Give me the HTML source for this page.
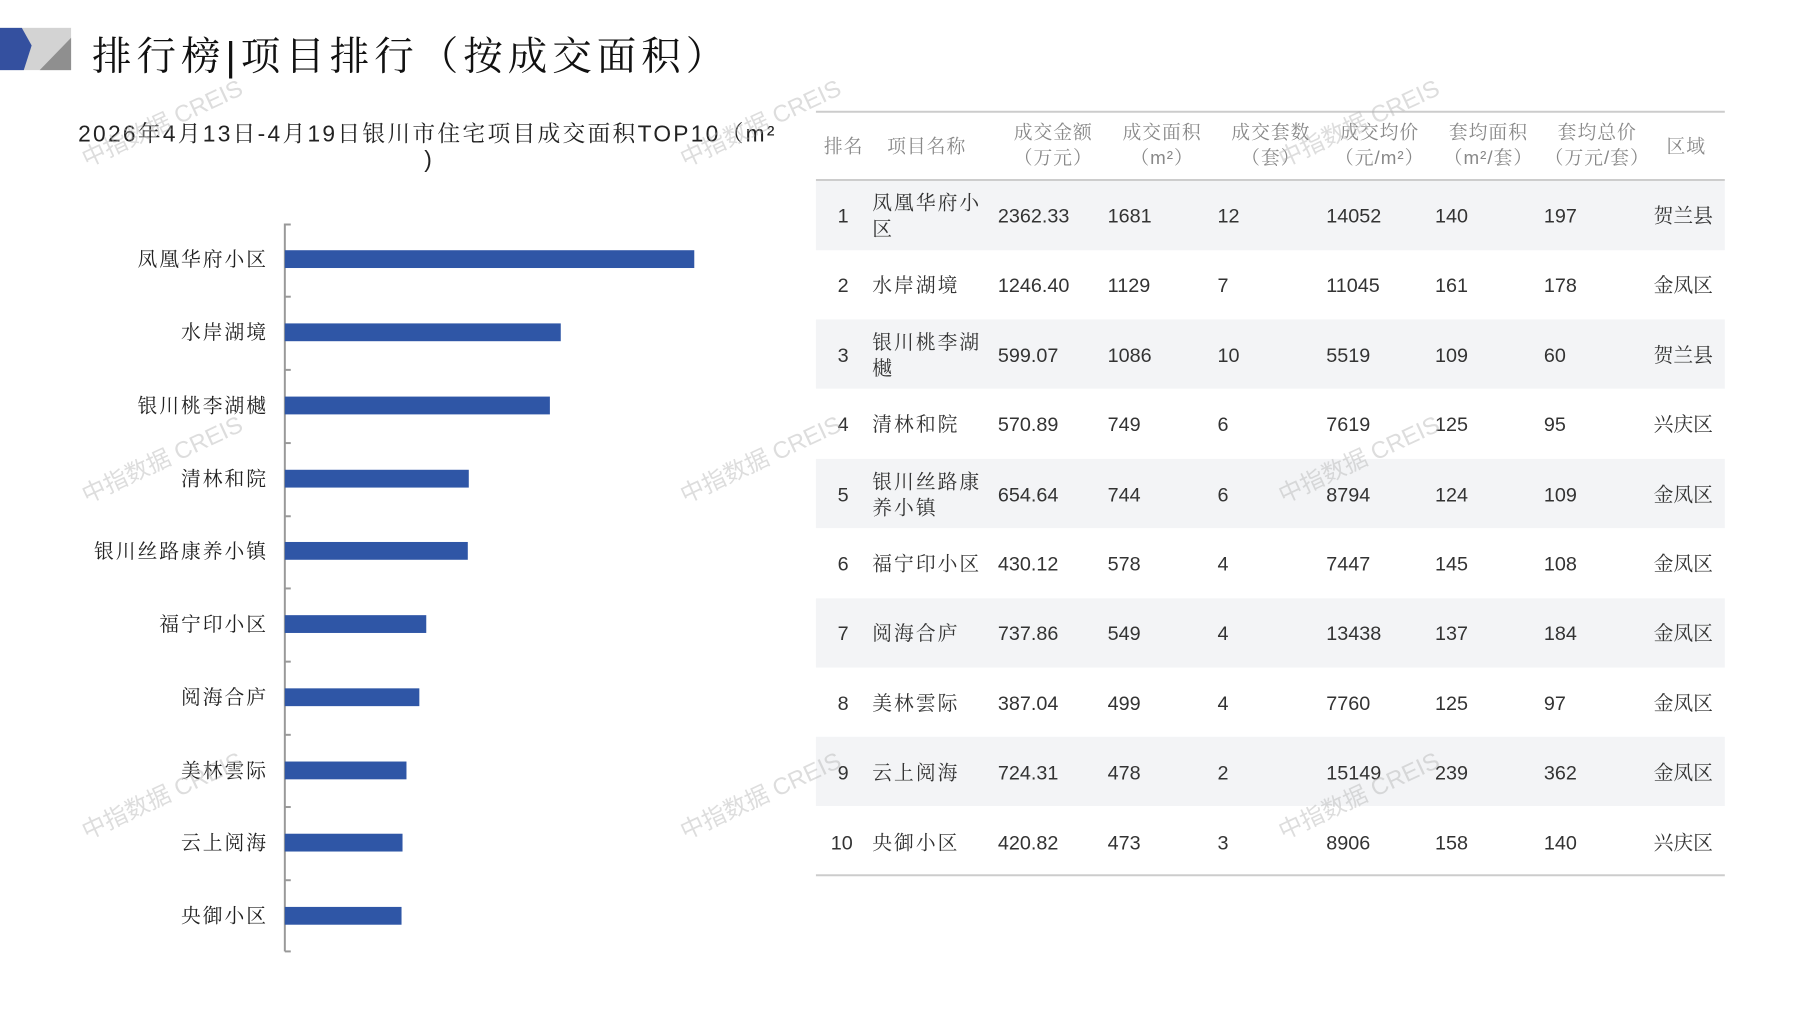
<!DOCTYPE html>
<html><head><meta charset="utf-8"><style>
body{margin:0;width:1797px;height:1010px;background:#fff;position:relative;overflow:hidden;font-family:"Liberation Sans","Noto Serif CJK SC",serif;}
#w{position:absolute;left:0;top:0;width:1817px;height:1021px;transform:scale(0.989);transform-origin:0 0;}
.a{position:absolute;white-space:nowrap;}
.lab{position:absolute;right:1546px;font-size:20px;color:#222;letter-spacing:2px;line-height:20px;}
.bar{position:absolute;left:288px;height:18px;background:#2f56a6;}
.tk{position:absolute;left:288px;width:6px;height:1.5px;background:#999;}
.row{position:absolute;left:825px;width:919px;height:70px;}
.c{position:absolute;font-size:20px;color:#333;line-height:26px;}
.h{position:absolute;font-size:19px;color:#888;text-align:center;line-height:26px;letter-spacing:1px;}
.wm{position:absolute;font-family:"Liberation Sans","Noto Sans CJK SC",sans-serif;font-size:24px;color:rgba(180,180,180,0.45);transform:rotate(-25deg);white-space:nowrap;}
</style></head><body><div id="w">
<svg class="a" style="left:0;top:28px" width="72" height="43">
<rect x="0" y="0" width="72" height="43" fill="#d3d3d3"/>
<polygon points="40,43 72,10 72,43" fill="#8f8f8f"/>
<polygon points="0,0 22,0 32,18 24,43 0,43" fill="#34509f"/>
</svg>
<div class="a" style="left:93px;top:26px;font-size:40px;color:#111;letter-spacing:5px;">排行榜|项目排行（按成交面积）</div>
<div class="a" style="left:79px;top:117px;font-size:23px;color:#222;letter-spacing:2.3px;">2026年4月13日-4月19日银川市住宅项目成交面积TOP10（m²</div>
<div class="a" style="left:429px;top:148px;font-size:23px;color:#222;">)</div>

<div class="a" style="left:287px;top:226px;width:1.5px;height:736px;background:#999;"></div>
<div class="tk" style="top:226px"></div><div class="tk" style="top:299px"></div><div class="tk" style="top:373px"></div><div class="tk" style="top:447px"></div><div class="tk" style="top:521px"></div><div class="tk" style="top:594px"></div><div class="tk" style="top:668px"></div><div class="tk" style="top:742px"></div><div class="tk" style="top:815px"></div><div class="tk" style="top:889px"></div><div class="tk" style="top:961px"></div>

<div class="bar" style="top:253px;width:414px"></div><div class="lab" style="top:253px">凤凰华府小区</div>
<div class="bar" style="top:327px;width:279px"></div><div class="lab" style="top:327px">水岸湖境</div>
<div class="bar" style="top:401px;width:268px"></div><div class="lab" style="top:401px">银川桃李湖樾</div>
<div class="bar" style="top:475px;width:186px"></div><div class="lab" style="top:475px">清林和院</div>
<div class="bar" style="top:548px;width:185px"></div><div class="lab" style="top:548px">银川丝路康养小镇</div>
<div class="bar" style="top:622px;width:143px"></div><div class="lab" style="top:622px">福宁印小区</div>
<div class="bar" style="top:696px;width:136px"></div><div class="lab" style="top:696px">阅海合庐</div>
<div class="bar" style="top:770px;width:123px"></div><div class="lab" style="top:770px">美林雲际</div>
<div class="bar" style="top:843px;width:119px"></div><div class="lab" style="top:843px">云上阅海</div>
<div class="bar" style="top:917px;width:118px"></div><div class="lab" style="top:917px">央御小区</div>

<div class="a" style="left:825px;top:112px;width:919px;height:2px;background:#ccc"></div>
<div class="a" style="left:825px;top:181px;width:919px;height:2px;background:#ccc"></div>
<div class="h" style="left:828px;top:136px;width:50px">排名</div>
<div class="h" style="left:882px;top:136px;width:110px">项目名称</div>
<div class="h" style="left:1010px;top:122px;width:110px">成交金额<br>（万元）</div>
<div class="h" style="left:1120px;top:122px;width:110px">成交面积<br>（m²）</div>
<div class="h" style="left:1230px;top:122px;width:110px">成交套数<br>（套）</div>
<div class="h" style="left:1340px;top:122px;width:110px">成交均价<br>（元/m²）</div>
<div class="h" style="left:1450px;top:122px;width:110px">套均面积<br>（m²/套）</div>
<div class="h" style="left:1560px;top:122px;width:110px">套均总价<br>（万元/套）</div>
<div class="h" style="left:1670px;top:136px;width:70px">区域</div>

<div class="row" style="top:183px;background:#f3f4f6"></div>
<div class="row" style="top:323px;background:#f3f4f6"></div>
<div class="row" style="top:464px;background:#f3f4f6"></div>
<div class="row" style="top:605px;background:#f3f4f6"></div>
<div class="row" style="top:745px;background:#f3f4f6"></div>
<div class="a" style="left:825px;top:884px;width:919px;height:1.5px;background:#ccc"></div>

<div class="c" style="left:847px;top:206px">1</div><div class="c" style="left:882px;top:193px;width:112px;white-space:normal;letter-spacing:2px">凤凰华府小区</div><div class="c" style="left:1009px;top:206px">2362.33</div><div class="c" style="left:1120px;top:206px">1681</div><div class="c" style="left:1231px;top:206px">12</div><div class="c" style="left:1341px;top:206px">14052</div><div class="c" style="left:1451px;top:206px">140</div><div class="c" style="left:1561px;top:206px">197</div><div class="c" style="left:1672px;top:206px">贺兰县</div>
<div class="c" style="left:847px;top:276px">2</div><div class="c" style="left:882px;top:276px;letter-spacing:2px">水岸湖境</div><div class="c" style="left:1009px;top:276px">1246.40</div><div class="c" style="left:1120px;top:276px">1129</div><div class="c" style="left:1231px;top:276px">7</div><div class="c" style="left:1341px;top:276px">11045</div><div class="c" style="left:1451px;top:276px">161</div><div class="c" style="left:1561px;top:276px">178</div><div class="c" style="left:1672px;top:276px">金凤区</div>
<div class="c" style="left:847px;top:347px">3</div><div class="c" style="left:882px;top:334px;width:112px;white-space:normal;letter-spacing:2px">银川桃李湖樾</div><div class="c" style="left:1009px;top:347px">599.07</div><div class="c" style="left:1120px;top:347px">1086</div><div class="c" style="left:1231px;top:347px">10</div><div class="c" style="left:1341px;top:347px">5519</div><div class="c" style="left:1451px;top:347px">109</div><div class="c" style="left:1561px;top:347px">60</div><div class="c" style="left:1672px;top:347px">贺兰县</div>
<div class="c" style="left:847px;top:417px">4</div><div class="c" style="left:882px;top:417px;letter-spacing:2px">清林和院</div><div class="c" style="left:1009px;top:417px">570.89</div><div class="c" style="left:1120px;top:417px">749</div><div class="c" style="left:1231px;top:417px">6</div><div class="c" style="left:1341px;top:417px">7619</div><div class="c" style="left:1451px;top:417px">125</div><div class="c" style="left:1561px;top:417px">95</div><div class="c" style="left:1672px;top:417px">兴庆区</div>
<div class="c" style="left:847px;top:488px">5</div><div class="c" style="left:882px;top:475px;width:112px;white-space:normal;letter-spacing:2px">银川丝路康养小镇</div><div class="c" style="left:1009px;top:488px">654.64</div><div class="c" style="left:1120px;top:488px">744</div><div class="c" style="left:1231px;top:488px">6</div><div class="c" style="left:1341px;top:488px">8794</div><div class="c" style="left:1451px;top:488px">124</div><div class="c" style="left:1561px;top:488px">109</div><div class="c" style="left:1672px;top:488px">金凤区</div>
<div class="c" style="left:847px;top:558px">6</div><div class="c" style="left:882px;top:558px;letter-spacing:2px">福宁印小区</div><div class="c" style="left:1009px;top:558px">430.12</div><div class="c" style="left:1120px;top:558px">578</div><div class="c" style="left:1231px;top:558px">4</div><div class="c" style="left:1341px;top:558px">7447</div><div class="c" style="left:1451px;top:558px">145</div><div class="c" style="left:1561px;top:558px">108</div><div class="c" style="left:1672px;top:558px">金凤区</div>
<div class="c" style="left:847px;top:628px">7</div><div class="c" style="left:882px;top:628px;letter-spacing:2px">阅海合庐</div><div class="c" style="left:1009px;top:628px">737.86</div><div class="c" style="left:1120px;top:628px">549</div><div class="c" style="left:1231px;top:628px">4</div><div class="c" style="left:1341px;top:628px">13438</div><div class="c" style="left:1451px;top:628px">137</div><div class="c" style="left:1561px;top:628px">184</div><div class="c" style="left:1672px;top:628px">金凤区</div>
<div class="c" style="left:847px;top:699px">8</div><div class="c" style="left:882px;top:699px;letter-spacing:2px">美林雲际</div><div class="c" style="left:1009px;top:699px">387.04</div><div class="c" style="left:1120px;top:699px">499</div><div class="c" style="left:1231px;top:699px">4</div><div class="c" style="left:1341px;top:699px">7760</div><div class="c" style="left:1451px;top:699px">125</div><div class="c" style="left:1561px;top:699px">97</div><div class="c" style="left:1672px;top:699px">金凤区</div>
<div class="c" style="left:847px;top:769px">9</div><div class="c" style="left:882px;top:769px;letter-spacing:2px">云上阅海</div><div class="c" style="left:1009px;top:769px">724.31</div><div class="c" style="left:1120px;top:769px">478</div><div class="c" style="left:1231px;top:769px">2</div><div class="c" style="left:1341px;top:769px">15149</div><div class="c" style="left:1451px;top:769px">239</div><div class="c" style="left:1561px;top:769px">362</div><div class="c" style="left:1672px;top:769px">金凤区</div>
<div class="c" style="left:840px;top:840px">10</div><div class="c" style="left:882px;top:840px;letter-spacing:2px">央御小区</div><div class="c" style="left:1009px;top:840px">420.82</div><div class="c" style="left:1120px;top:840px">473</div><div class="c" style="left:1231px;top:840px">3</div><div class="c" style="left:1341px;top:840px">8906</div><div class="c" style="left:1451px;top:840px">158</div><div class="c" style="left:1561px;top:840px">140</div><div class="c" style="left:1672px;top:840px">兴庆区</div>

<div class="wm" style="left:75px;top:105px">中指数据 CREIS</div>
<div class="wm" style="left:680px;top:105px">中指数据 CREIS</div>
<div class="wm" style="left:1285px;top:105px">中指数据 CREIS</div>
<div class="wm" style="left:75px;top:445px">中指数据 CREIS</div>
<div class="wm" style="left:680px;top:445px">中指数据 CREIS</div>
<div class="wm" style="left:1285px;top:445px">中指数据 CREIS</div>
<div class="wm" style="left:75px;top:785px">中指数据 CREIS</div>
<div class="wm" style="left:680px;top:785px">中指数据 CREIS</div>
<div class="wm" style="left:1285px;top:785px">中指数据 CREIS</div>
</div></body></html>
